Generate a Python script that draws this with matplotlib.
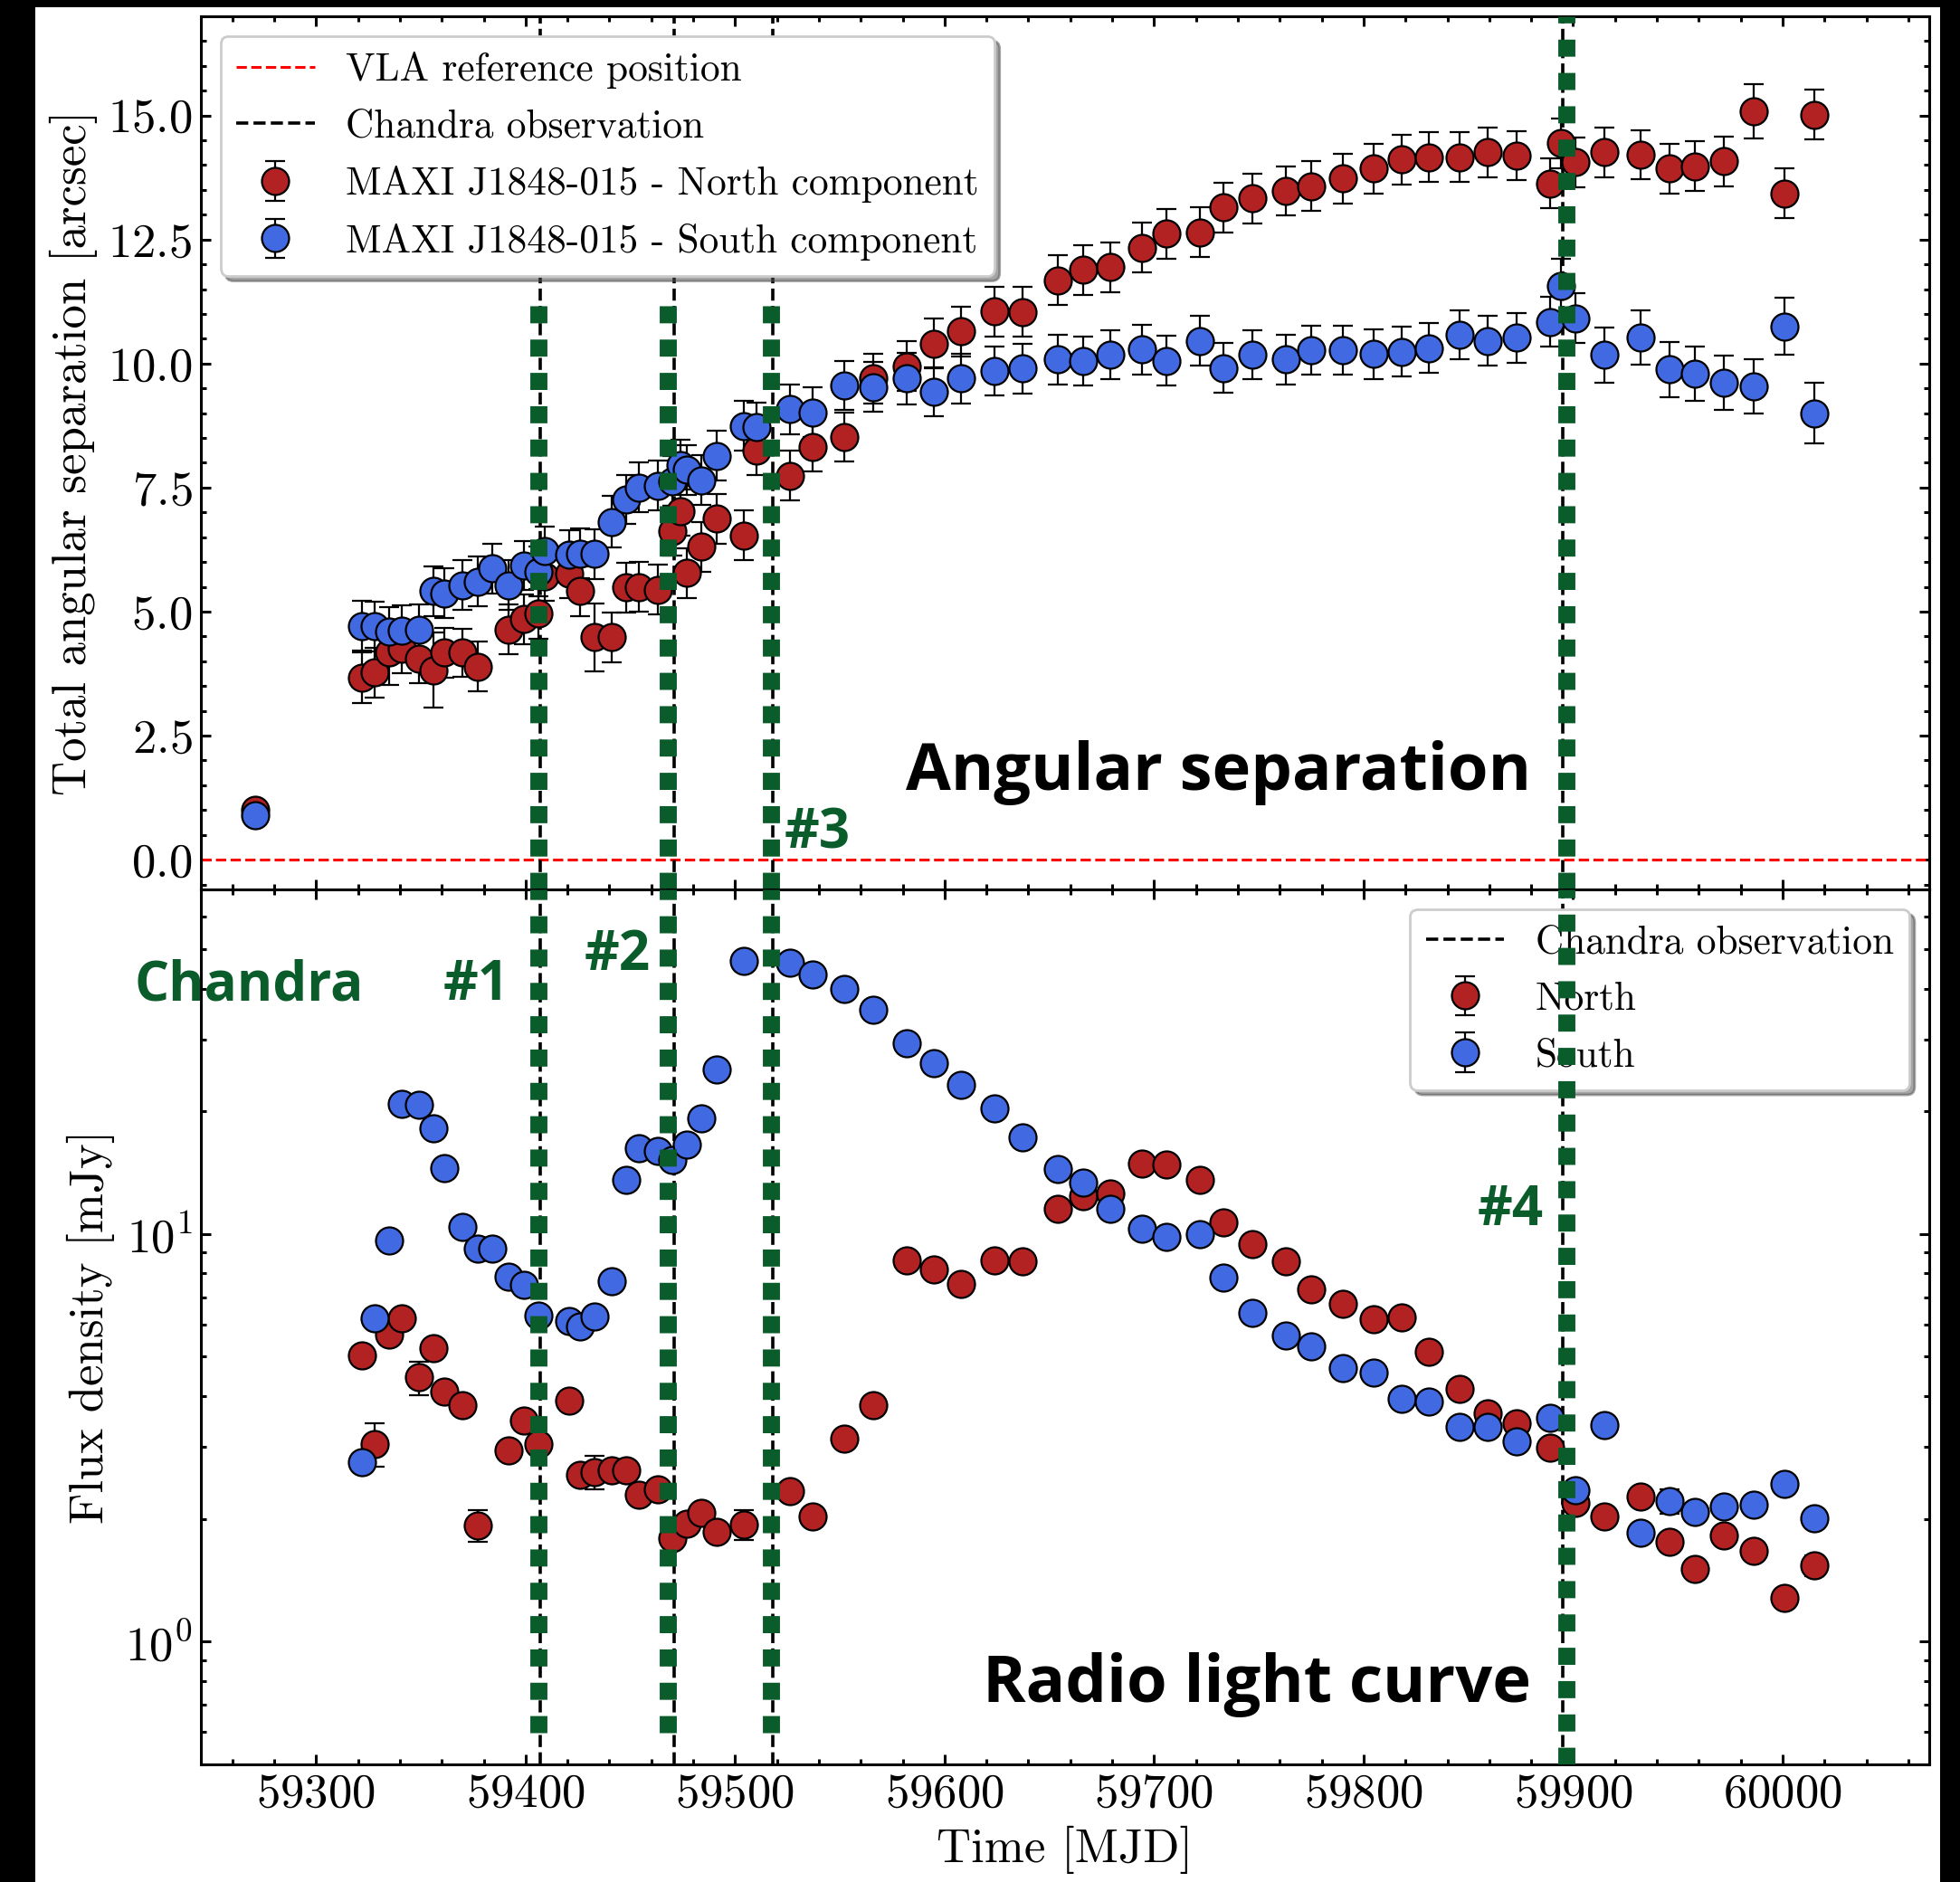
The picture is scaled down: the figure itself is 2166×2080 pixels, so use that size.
import matplotlib
matplotlib.use("Agg")
import matplotlib.pyplot as plt
from matplotlib.patches import Rectangle
from matplotlib.ticker import MultipleLocator

plt.rcParams['font.family'] = 'cmr10'
plt.rcParams['mathtext.fontset'] = 'cm'
plt.rcParams['axes.formatter.use_mathtext'] = True
plt.rcParams['axes.unicode_minus'] = False

# --- angular separation (top panel) ---
t_sep_n = [59271, 59322, 59328, 59335, 59341, 59349, 59356, 59361, 59370, 59377,
           59392, 59399, 59406, 59409, 59421, 59426, 59433, 59441, 59448, 59454,
           59463, 59470, 59474, 59477, 59484, 59491, 59504, 59510, 59526, 59537,
           59552, 59566, 59582, 59595, 59608, 59624, 59637, 59654, 59666, 59679,
           59694, 59706, 59722, 59733, 59747, 59763, 59775, 59790, 59805, 59818,
           59831, 59846, 59859, 59873, 59889, 59894, 59901, 59915, 59932, 59946,
           59958, 59972, 59986, 60001, 60015]
sep_n = [1.00, 3.66, 3.77, 4.18, 4.26, 4.05, 3.82, 4.17, 4.17, 3.89,
         4.64, 4.85, 4.96, 5.71, 5.77, 5.41, 4.48, 4.48, 5.49, 5.50,
         5.44, 6.63, 7.03, 5.78, 6.31, 6.87, 6.54, 8.25, 7.74, 8.32,
         8.52, 9.70, 9.95, 10.40, 10.65, 11.05, 11.04, 11.68, 11.89, 11.94,
         12.34, 12.62, 12.65, 13.15, 13.33, 13.48, 13.58, 13.73, 13.93, 14.11,
         14.16, 14.16, 14.26, 14.19, 13.63, 14.44, 14.06, 14.26, 14.21, 13.93,
         13.98, 14.08, 15.09, 13.43, 15.02]
sep_n_err = [0.10, 0.51, 0.50, 0.65, 0.50, 0.50, 0.76, 0.50, 0.49, 0.50,
             0.50, 0.50, 0.50, 0.50, 0.50, 0.50, 0.69, 0.50, 0.50, 0.50,
             0.50, 0.50, 0.50, 0.50, 0.50, 0.50, 0.50, 0.50, 0.50, 0.50,
             0.50, 0.50, 0.50, 0.50, 0.50, 0.50, 0.50, 0.50, 0.50, 0.50,
             0.50, 0.50, 0.50, 0.50, 0.50, 0.50, 0.50, 0.50, 0.50, 0.50,
             0.50, 0.50, 0.50, 0.50, 0.50, 0.50, 0.50, 0.50, 0.50, 0.50,
             0.50, 0.50, 0.55, 0.50, 0.50]

t_sep_s = [59271, 59322, 59328, 59335, 59341, 59349, 59356, 59361, 59370, 59377,
           59384, 59392, 59399, 59406, 59409, 59421, 59426, 59433, 59441, 59448,
           59454, 59463, 59470, 59474, 59477, 59484, 59491, 59504, 59510, 59526,
           59537, 59552, 59566, 59582, 59595, 59608, 59624, 59637, 59654, 59666,
           59679, 59694, 59706, 59722, 59733, 59747, 59763, 59775, 59790, 59805,
           59818, 59831, 59846, 59859, 59873, 59889, 59894, 59901, 59915, 59932,
           59946, 59958, 59972, 59986, 60001, 60015]
sep_s = [0.90, 4.71, 4.70, 4.59, 4.62, 4.64, 5.41, 5.37, 5.53, 5.61,
         5.87, 5.53, 5.93, 5.81, 6.22, 6.14, 6.17, 6.16, 6.81, 7.26,
         7.50, 7.54, 7.63, 7.96, 7.86, 7.65, 8.14, 8.74, 8.72, 9.08,
         9.02, 9.56, 9.53, 9.70, 9.43, 9.70, 9.85, 9.90, 10.08, 10.05,
         10.18, 10.28, 10.06, 10.46, 9.91, 10.18, 10.08, 10.27, 10.27, 10.19,
         10.24, 10.31, 10.58, 10.46, 10.52, 10.84, 11.57, 10.91, 10.17, 10.52,
         9.88, 9.80, 9.61, 9.54, 10.75, 9.00]
sep_s_err = [0.10, 0.50, 0.50, 0.50, 0.50, 0.50, 0.50, 0.50, 0.50, 0.50,
             0.50, 0.50, 0.50, 0.50, 0.50, 0.50, 0.50, 0.50, 0.52, 0.50,
             0.50, 0.50, 0.50, 0.50, 0.50, 0.50, 0.50, 0.50, 0.50, 0.50,
             0.50, 0.50, 0.50, 0.52, 0.50, 0.50, 0.50, 0.50, 0.50, 0.50,
             0.50, 0.50, 0.50, 0.50, 0.50, 0.50, 0.50, 0.50, 0.50, 0.50,
             0.50, 0.50, 0.50, 0.50, 0.50, 0.50, 0.55, 0.50, 0.55, 0.55,
             0.55, 0.55, 0.55, 0.55, 0.58, 0.61]

# --- radio light curve (bottom panel) ---
t_flux_n = [59322, 59328, 59335, 59341, 59349, 59356, 59361, 59370, 59377, 59392,
            59399, 59406, 59421, 59426, 59433, 59441, 59448, 59454, 59463, 59470,
            59477, 59484, 59491, 59504, 59526, 59537, 59552, 59566, 59582, 59595,
            59608, 59624, 59637, 59654, 59666, 59679, 59694, 59706, 59722, 59733,
            59747, 59763, 59775, 59790, 59805, 59818, 59831, 59846, 59859, 59873,
            59889, 59901, 59915, 59932, 59946, 59958, 59972, 59986, 60001, 60015]
flux_n = [5.03, 3.06, 5.66, 6.21, 4.45, 5.26, 4.11, 3.81, 1.93, 2.95,
          3.49, 3.06, 3.91, 2.57, 2.61, 2.63, 2.63, 2.29, 2.37, 1.79,
          1.95, 2.07, 1.86, 1.94, 2.34, 2.03, 3.15, 3.81, 8.63, 8.20,
          7.54, 8.63, 8.57, 11.5, 12.4, 12.6, 14.9, 14.8, 13.6, 10.7,
          9.45, 8.57, 7.33, 6.74, 6.19, 6.23, 5.15, 4.17, 3.64, 3.44,
          2.99, 2.19, 2.03, 2.27, 1.76, 1.51, 1.82, 1.67, 1.28, 1.54]
flux_n_err = [0.20, 0.37, 0.23, 0.25, 0.42, 0.21, 0.16, 0.15, 0.17, 0.12,
              0.14, 0.12, 0.16, 0.10, 0.24, 0.10, 0.10, 0.09, 0.09, 0.07,
              0.08, 0.08, 0.07, 0.16, 0.09, 0.08, 0.13, 0.15, 0.35, 0.33,
              0.30, 0.35, 0.34, 0.46, 0.50, 0.50, 0.60, 0.59, 0.54, 0.43,
              0.38, 0.34, 0.29, 0.27, 0.25, 0.25, 0.21, 0.17, 0.15, 0.14,
              0.12, 0.09, 0.08, 0.09, 0.07, 0.06, 0.07, 0.07, 0.05, 0.09]

t_flux_s = [59322, 59328, 59335, 59341, 59349, 59356, 59361, 59370, 59377, 59384,
            59392, 59399, 59406, 59421, 59426, 59433, 59441, 59448, 59454, 59463,
            59470, 59477, 59484, 59491, 59504, 59526, 59537, 59552, 59566, 59582,
            59595, 59608, 59624, 59637, 59654, 59666, 59679, 59694, 59706, 59722,
            59733, 59747, 59763, 59775, 59790, 59805, 59818, 59831, 59846, 59859,
            59873, 59889, 59901, 59915, 59932, 59946, 59958, 59972, 59986, 60001,
            60015]
flux_s = [2.75, 6.20, 9.64, 20.9, 20.7, 18.2, 14.5, 10.4, 9.22, 9.20,
          7.87, 7.51, 6.32, 6.13, 5.94, 6.26, 7.64, 13.6, 16.2, 16.0,
          15.2, 16.6, 19.2, 25.3, 46.7, 46.2, 43.3, 39.8, 35.4, 29.4,
          26.3, 23.2, 20.3, 17.3, 14.4, 13.4, 11.5, 10.3, 9.86, 10.0,
          7.81, 6.41, 5.65, 5.30, 4.70, 4.57, 3.94, 3.88, 3.37, 3.37,
          3.10, 3.54, 2.35, 3.40, 1.85, 2.21, 2.08, 2.14, 2.17, 2.44,
          2.01]
flux_s_err = [0.11, 0.25, 0.39, 0.84, 0.83, 0.73, 0.58, 0.42, 0.37, 0.37,
              0.31, 0.30, 0.25, 0.25, 0.24, 0.25, 0.31, 0.54, 0.65, 0.64,
              0.61, 0.66, 0.77, 1.00, 1.90, 1.80, 1.70, 1.60, 1.40, 1.20,
              1.05, 0.93, 0.81, 0.69, 0.58, 0.54, 0.46, 0.41, 0.39, 0.40,
              0.31, 0.26, 0.23, 0.21, 0.19, 0.18, 0.16, 0.16, 0.13, 0.13,
              0.12, 0.14, 0.09, 0.14, 0.07, 0.15, 0.08, 0.09, 0.09, 0.10,
              0.08]

t_chandra = [59407, 59471, 59518, 59895]
t_marks = [59406, 59468, 59517, 59897]
mark_labels = ['#1', '#2', '#3', '#4']

red = '#b22222'
blue = '#4169e1'
green = '#0a5c2b'

W, H = 2166, 2080
fig = plt.figure(figsize=(W / 200, H / 200), dpi=200)
fig.patch.set_facecolor('black')
fig.add_artist(Rectangle((39 / W, 0), (2144 - 39) / W, 1 - 8 / H,
                         transform=fig.transFigure, facecolor='white',
                         edgecolor='none', zorder=-10))

ax1 = fig.add_axes([222 / W, 1 - 983 / H, (2132 - 222) / W, (983 - 18) / H])
ax2 = fig.add_axes([222 / W, 1 - 1950 / H, (2132 - 222) / W, (1950 - 983) / H], sharex=ax1)

eb = dict(fmt='o', ms=10.8, mec='k', mew=0.8, ecolor='k', elinewidth=0.8,
          capsize=4, capthick=0.8)

# top panel
ax1.axhline(0, color='red', ls='--', lw=1.1, label='VLA reference position')
for i, t in enumerate(t_chandra):
    ax1.axvline(t, color='k', ls='--', lw=1.3,
                label='Chandra observation' if i == 0 else None)
ax1.errorbar(t_sep_n, sep_n, yerr=sep_n_err, mfc=red,
             label='MAXI J1848-015 - North component', **eb)
ax1.errorbar(t_sep_s, sep_s, yerr=sep_s_err, mfc=blue,
             label='MAXI J1848-015 - South component', **eb)

# bottom panel
for i, t in enumerate(t_chandra):
    ax2.axvline(t, color='k', ls='--', lw=1.3,
                label='Chandra observation' if i == 0 else None)
ax2.errorbar(t_flux_n, flux_n, yerr=flux_n_err, mfc=red, label='North', **eb)
ax2.errorbar(t_flux_s, flux_s, yerr=flux_s_err, mfc=blue, label='South', **eb)
ax2.set_yscale('log')

# thick green markers of the Chandra epochs (drawn over everything)
for i, t in enumerate(t_marks):
    ax1.axvline(t, ymin=0, ymax=0.678 if i < 3 else 1, color=green, lw=6.8,
                ls=(0, (1.0, 0.95)), zorder=6)
    ax2.axvline(t, ymin=0.036 if i < 3 else 0, ymax=1, color=green, lw=6.8,
                ls=(0, (1.0, 0.95)), zorder=6)

ax1.set_xlim(59245, 60070)
ax1.set_ylim(-0.6, 17.0)
ax2.set_ylim(0.5, 70)

ax1.xaxis.set_major_locator(MultipleLocator(100))
ax1.xaxis.set_minor_locator(MultipleLocator(20))
ax1.yaxis.set_major_locator(MultipleLocator(2.5))
ax1.yaxis.set_minor_locator(MultipleLocator(0.5))

for ax in (ax1, ax2):
    ax.tick_params(which='both', direction='in', top=True, right=True,
                   labelsize=19, width=1.1)
    ax.tick_params(which='major', length=3.8)
    ax.tick_params(which='minor', length=2.2)
    for s in ax.spines.values():
        s.set_linewidth(1.1)
ax1.tick_params(labelbottom=False)

ax1.set_ylabel('Total angular separation [arcsec]', fontsize=19)
ax2.set_ylabel('Flux density [mJy]', fontsize=19)
ax2.set_xlabel('Time [MJD]', fontsize=19)

ax1.legend(loc='upper left', fontsize=15.6, shadow=True, framealpha=1,
           labelspacing=0.52)
ax2.legend(loc='upper right', fontsize=15.6, shadow=True, framealpha=1,
           labelspacing=0.52)

# panel titles and Chandra labels
bold = dict(family='Open Sans', weight='bold')
fig.text(1692 / W, 1 - 873 / H, 'Angular separation', ha='right', va='baseline',
         fontsize=26, color='k', **bold)
fig.text(1692 / W, 1 - 1881 / H, 'Radio light curve', ha='right', va='baseline',
         fontsize=26, color='k', **bold)
fig.text(148 / W, 1 - 1105 / H, 'Chandra', ha='left', va='baseline',
         fontsize=21.6, color=green, **bold)
mark_pos = [(490, 1105), (646, 1072), (867, 938), (1633, 1354)]
for lab, (px, py) in zip(mark_labels, mark_pos):
    fig.text(px / W, 1 - py / H, lab, ha='left', va='baseline',
             fontsize=21.6, color=green, zorder=7, **bold)

fig.savefig('out.png', dpi=200, facecolor=fig.get_facecolor())
